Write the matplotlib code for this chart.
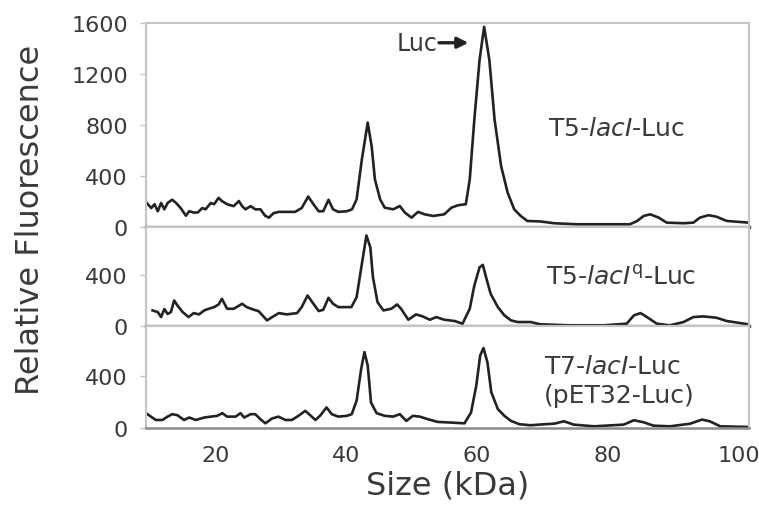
import matplotlib
matplotlib.use("Agg")
import matplotlib.pyplot as plt

plt.rcParams['font.family'] = ['DejaVu Sans']
plt.rcParams['mathtext.fontset'] = 'dejavusans'

# ---- data ----
top_kda = [9.5, 10.2, 10.7, 11.2, 11.7, 12.2, 12.7, 13.4, 14.0, 14.7,
           15.5, 16.0, 16.7, 17.3, 18.0, 18.5, 19.3, 19.8, 20.5, 21.0,
           21.8, 22.8, 23.6, 24.1, 24.6, 25.4, 26.1, 26.9, 27.6, 28.2,
           28.9, 29.7, 30.7, 32.2, 33.2, 34.2, 35.0, 35.8, 36.5, 37.3,
           38.0, 38.8, 40.1, 40.9, 41.6, 42.4, 43.3, 43.9, 44.4, 45.2,
           45.9, 47.2, 48.2, 49.0, 50.0, 51.0, 52.0, 53.3, 55.0, 56.1,
           57.1, 58.3, 58.9, 59.6, 60.4, 61.1, 61.9, 62.7, 63.7, 64.7,
           65.7, 66.7, 67.7, 69.7, 71.8, 75.3, 79.4, 83.4, 84.5, 85.5,
           86.5, 87.8, 89.0, 91.6, 93.1, 94.1, 95.4, 96.6, 98.2, 101.5]
top_rfu = [190, 150, 180, 125, 190, 140, 190, 215, 190, 150,
           90, 125, 115, 115, 150, 140, 190, 180, 230, 205,
           180, 165, 205, 165, 140, 165, 140, 140, 90, 75,
           110, 120, 120, 120, 150, 240, 180, 125, 125, 215,
           140, 120, 125, 140, 218, 530, 820, 634, 374, 218,
           153, 140, 166, 114, 75, 120, 101, 88, 101, 153,
           172, 180, 374, 842, 1310, 1570, 1310, 842, 478, 270,
           140, 88, 49, 45, 31, 23, 23, 23, 49, 88,
           101, 75, 36, 31, 36, 75, 94, 83, 49, 36]

mid_kda = [10.4, 11.2, 11.7, 12.2, 12.7, 13.2, 13.7, 14.2, 15.0, 15.9,
           16.7, 17.5, 18.3, 19.0, 19.8, 20.5, 21.0, 21.8, 22.8, 24.1,
           24.8, 25.9, 26.6, 27.9, 28.7, 29.7, 30.9, 32.5, 33.2, 34.1,
           35.0, 35.8, 36.5, 37.3, 38.0, 38.8, 40.1, 40.8, 41.6, 42.4,
           43.1, 43.7, 44.1, 44.8, 45.7, 46.9, 47.8, 48.4, 49.5, 50.7,
           51.7, 52.8, 53.8, 55.0, 56.6, 57.8, 58.9, 59.6, 60.4, 60.9,
           61.4, 62.1, 63.2, 64.2, 65.2, 66.2, 68.2, 69.7, 74.3, 79.4,
           82.9, 84.0, 85.0, 86.0, 87.5, 89.5, 91.6, 93.1, 94.6, 96.6,
           98.2, 101.5]
mid_rfu = [122, 109, 70, 133, 94, 109, 200, 161, 109, 70,
           101, 91, 122, 135, 148, 169, 213, 135, 135, 174,
           148, 127, 117, 44, 70, 101, 91, 101, 148, 239,
           174, 117, 127, 221, 174, 148, 148, 148, 226, 486,
           710, 616, 382, 187, 122, 135, 169, 135, 49, 91,
           75, 49, 70, 49, 39, 18, 135, 317, 460, 480,
           382, 252, 148, 83, 44, 31, 31, 13, 5, 5,
           18, 83, 101, 70, 18, 5, 31, 70, 75, 65,
           39, 13]

bot_kda = [9.4, 10.15, 10.9, 11.9, 12.7, 13.4, 14.2, 15.2, 16.0, 17.0,
           18.3, 19.3, 20.3, 21.05, 21.8, 23.1, 23.85, 24.4, 25.4, 26.1,
           26.9, 27.65, 28.65, 29.65, 30.7, 31.7, 32.7, 33.75, 34.5, 35.3,
           36.0, 37.0, 37.8, 38.8, 40.1, 40.85, 41.6, 42.3, 42.8, 43.3,
           43.8, 44.65, 45.9, 47.2, 48.2, 49.2, 50.2, 51.25, 52.5, 54.0,
           56.05, 58.1, 59.1, 59.9, 60.5, 61.0, 61.6, 62.2, 63.2, 64.2,
           65.2, 66.5, 68.2, 70.3, 71.8, 73.3, 74.8, 77.9, 82.45, 84.0,
           85.5, 87.0, 89.5, 92.6, 94.4, 95.6, 97.2, 101.5]
bot_rfu = [115, 88, 62, 62, 88, 107, 99, 62, 81, 62,
           81, 88, 94, 115, 88, 88, 115, 81, 107, 107,
           68, 36, 73, 88, 62, 62, 94, 133, 99, 62,
           94, 159, 107, 88, 94, 107, 211, 458, 588, 484,
           198, 115, 94, 88, 107, 55, 94, 88, 68, 47,
           42, 36, 120, 328, 562, 619, 510, 276, 146, 94,
           55, 29, 21, 29, 33, 52, 26, 13, 26, 60,
           44, 18, 13, 33, 65, 52, 13, 8]

x_ticks = [20, 40, 60, 80, 100]
top_yticks = [0, 400, 800, 1200, 1600]
small_yticks = [0, 400]
labels = [r"T5-$\mathit{lacI}$-Luc",
          r"T5-$\mathit{lacI}^{\mathrm{q}}$-Luc",
          r"T7-$\mathit{lacI}$-Luc" + "\n(pET32-Luc)"]

# ---- figure ----
fig = plt.figure(figsize=(7.59, 5.06), dpi=100)
L, W = 0.1924, 0.7944
ax_top = fig.add_axes([L, 0.549, W, 0.4036])
ax_mid = fig.add_axes([L, 0.3538, W, 0.1952])
ax_bot = fig.add_axes([L, 0.1522, W, 0.2016])

line_c = '#222222'
text_c = '#3a3a3a'
panels = [(ax_top, top_kda, top_rfu, (0, 1600), top_yticks),
          (ax_mid, mid_kda, mid_rfu, (0, 775), small_yticks),
          (ax_bot, bot_kda, bot_rfu, (0, 790), small_yticks)]
for ax, xs, ys, yl, yt in panels:
    ax.plot(xs, ys, color=line_c, lw=1.9, solid_joinstyle='round')
    ax.set_xlim(9.4, 101.6)
    ax.set_ylim(*yl)
    ax.set_yticks(yt)
    ax.set_xticks(x_ticks)
    for s in ['left', 'right', 'top']:
        ax.spines[s].set_color('#c4c4c4')
        ax.spines[s].set_linewidth(1.5)
    ax.spines['bottom'].set_color('#555555')
    ax.spines['bottom'].set_linewidth(2.4)
    ax.tick_params(axis='y', colors='#c4c4c4', labelcolor=text_c,
                   labelsize=16, length=4, width=1, pad=9)
    ax.tick_params(axis='x', colors='#c4c4c4', labelcolor=text_c,
                   labelsize=16, length=0, pad=12)

ax_top.tick_params(axis='x', labelbottom=False)
ax_mid.tick_params(axis='x', labelbottom=False)
ax_bot.spines['bottom'].set_color('#8a8a8a')
ax_bot.spines['bottom'].set_linewidth(1.8)

# annotations
ax_top.annotate('', xy=(58.7, 1445), xytext=(54.2, 1445),
                arrowprops=dict(arrowstyle='-|>', color=line_c, lw=2.4,
                                mutation_scale=16, shrinkA=0, shrinkB=0))
ax_top.text(53.9, 1445, 'Luc', ha='right', va='center', fontsize=17,
            color=text_c)
ax_top.text(70.8, 780, labels[0], ha='left', va='center', fontsize=18,
            color=text_c)
ax_mid.text(70.6, 382, labels[1], ha='left', va='center', fontsize=18,
            color=text_c)
ax_bot.text(70.3, 370, labels[2], ha='left', va='center', fontsize=18,
            color=text_c, linespacing=1.25)

fig.text(0.040, 0.565, 'Relative Fluorescence', rotation=90,
         ha='center', va='center', fontsize=23, color=text_c)
fig.text(0.590, 0.040, 'Size (kDa)', ha='center', va='center',
         fontsize=23, color=text_c)

fig.savefig('out.png', dpi=100, facecolor='white')
